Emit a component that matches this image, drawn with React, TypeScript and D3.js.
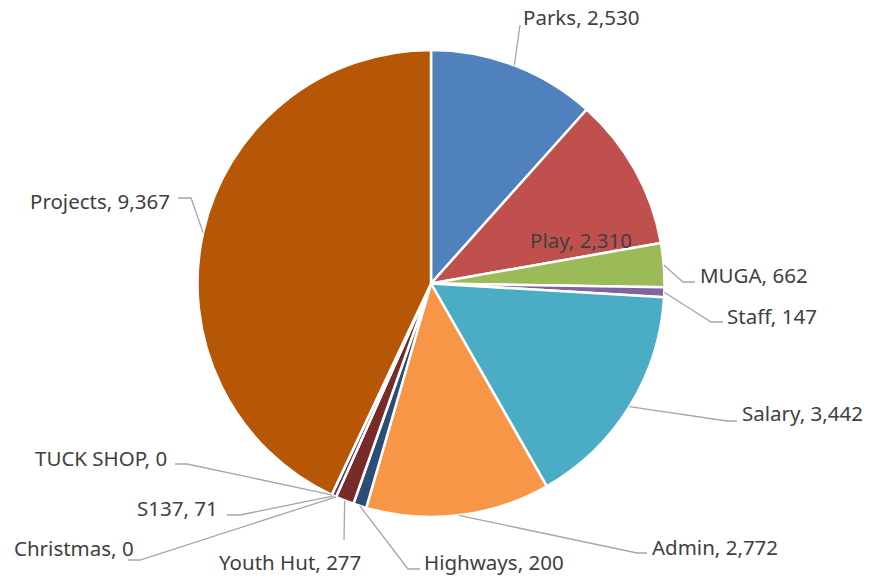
import { useMemo } from "react";
import * as d3 from "d3";

// categories, clockwise from 12 o'clock
const categories = [
  "Parks", "Play", "MUGA", "Staff", "Salary", "Admin",
  "Highways", "Youth Hut", "Christmas", "S137", "TUCK SHOP", "Projects",
];
const values = [2530, 2310, 662, 147, 3442, 2772, 200, 277, 0, 71, 0, 9367];
const colors = [
  "#4F81BD", "#C0504D", "#9BBB59", "#8064A2", "#4BACC6", "#F79646",
  "#2C4D75", "#772C2A", "#5F7530", "#4D3B62", "#276A7C", "#B65708",
];

// label placement (text x / centre y) and leader bends, per category
const labelLayout: { x: number; y: number; leader: [number, number][] }[] = [
  { x: 523, y: 17, leader: [[520, 25]] },
  { x: 530, y: 240, leader: [] },
  { x: 700, y: 275, leader: [[683, 282], [695, 282]] },
  { x: 727, y: 316, leader: [[711, 322], [723, 322]] },
  { x: 742, y: 413, leader: [[727, 421], [737, 421]] },
  { x: 652, y: 547, leader: [[637, 553], [647, 553]] },
  { x: 424, y: 562, leader: [[408, 569], [420, 569]] },
  { x: 219, y: 562, leader: [[344, 540]] },
  { x: 14, y: 548, leader: [[140, 560], [128, 560]] },
  { x: 137, y: 508, leader: [[240, 515], [227, 515]] },
  { x: 35, y: 458, leader: [[187, 464], [175, 464]] },
  { x: 30, y: 201, leader: [[191, 198], [178, 198]] },
];

const width = 870;
const height = 580;
const cx = 431;
const cy = 283.5;
const radius = 233.5;

export default function App() {
  const arcs = useMemo(
    () =>
      d3.pie<number>().sort(null).value((d) => d)(values),
    []
  );
  const arc = d3.arc<d3.PieArcDatum<number>>().innerRadius(0).outerRadius(radius);
  const fmt = d3.format(",");
  const line = d3.line();

  return (
    <svg
      width={width}
      height={height}
      style={{ position: "absolute", left: 0, top: 0, background: "#fff" }}
      fontFamily="'Noto Sans', sans-serif"
    >
      <g transform={`translate(${cx},${cy})`}>
        {arcs.map((a, i) => (
          <path
            key={categories[i]}
            d={arc(a) ?? ""}
            fill={colors[i]}
            stroke="#fff"
            strokeWidth={2.5}
            strokeLinejoin="round"
          />
        ))}
      </g>

      {/* leader lines */}
      {arcs.map((a, i) => {
        const pts = labelLayout[i].leader;
        if (!pts.length) return null;
        const mid = (a.startAngle + a.endAngle) / 2;
        const start: [number, number] = [
          cx + radius * Math.sin(mid),
          cy - radius * Math.cos(mid),
        ];
        return (
          <path
            key={"l" + i}
            d={line([start, ...pts]) ?? ""}
            fill="none"
            stroke="#A6A6A6"
            strokeWidth={1.3}
          />
        );
      })}

      {/* labels */}
      {categories.map((c, i) => (
        <text
          key={"t" + c}
          x={labelLayout[i].x}
          y={labelLayout[i].y}
          dominantBaseline="central"
          fontSize={20.5}
          fill="#404040"
        >
          {`${c}, ${fmt(values[i])}`}
        </text>
      ))}
    </svg>
  );
}
